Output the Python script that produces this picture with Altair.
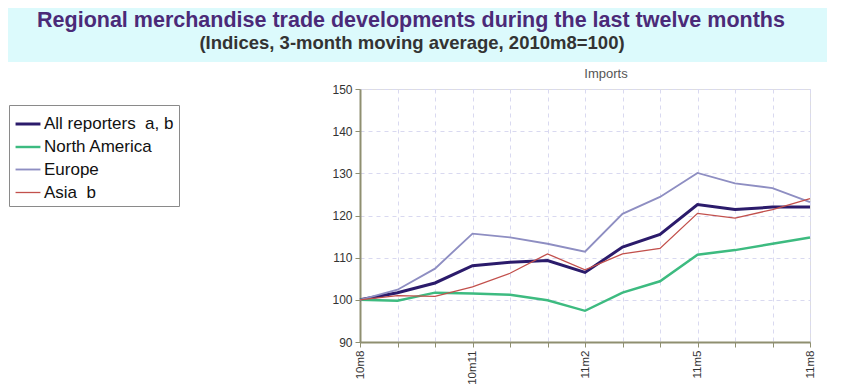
import altair as alt
import pandas as pd

months = ["10m8", "10m9", "10m10", "10m11", "10m12", "11m1", "11m2",
          "11m3", "11m4", "11m5", "11m6", "11m7", "11m8"]
shown_labels = ["10m8", "10m11", "11m2", "11m5", "11m8"]

series_names = ["All reporters\u00a0\u00a0a, b", "\u00a0\u00a0North America",
                "\u00a0\u00a0Europe", "\u00a0\u00a0Asia\u00a0\u00a0b"]
all_reporters = [100, 101.7, 104.0, 108.1, 108.9, 109.3, 106.5, 112.5, 115.5, 122.6, 121.4, 122.0, 122.0]
north_america = [100, 99.8, 101.7, 101.5, 101.2, 99.9, 97.4, 101.7, 104.4, 110.7, 111.8, 113.3, 114.8]
europe = [100, 102.4, 107.4, 115.7, 114.8, 113.3, 111.4, 120.4, 124.4, 130.1, 127.6, 126.5, 123.2]
asia = [100, 101.0, 100.8, 103.1, 106.3, 110.9, 107.1, 110.9, 112.2, 120.5, 119.4, 121.4, 124.0]

colors = ["#2b1b6b", "#3dbb80", "#8e8ec2", "#c2504c"]
widths = [3, 1.3, 1.4, 1.4]

title_text = "Regional merchandise trade developments during the last twelve months"
subtitle_text = "(Indices, 3-month moving average, 2010m8=100)"
panel_title = "Imports"

rows = []
for name, vals in zip(series_names, [all_reporters, north_america, europe, asia]):
    for m, v in zip(months, vals):
        rows.append({"month": m, "series": name, "value": v})
df = pd.DataFrame(rows)

frame_col = "#a5a58c"
grid_col = "#d9d9f0"

label_test = "indexof(" + str(shown_labels) + ", datum.value) >= 0 ? datum.value : ''"

legend_cfg = dict(title=None, orient="none", legendX=-351, legendY=16,
                  symbolType="stroke", symbolSize=620,
                  labelFontSize=17, labelColor="#111111",
                  labelFont="Liberation Sans", labelLimit=300,
                  labelOffset=2, rowPadding=1, padding=5,
                  strokeColor="#8a8a8a", fillColor="white")

lines = alt.Chart(df).mark_line().encode(
    x=alt.X("month:O", sort=months, title=None,
            scale=alt.Scale(type="point", padding=0),
            axis=alt.Axis(labelAngle=-90, labelExpr=label_test, labelFontSize=11.5,
                          labelColor="#333333", labelPadding=3, labelBaseline="middle",
                          labelAlign="right",
                          grid=True, gridColor=grid_col, gridDash=[4, 4],
                          domainColor="#8f8f70", domainWidth=2,
                          tickColor="#8f8f70", tickSize=5, tickWidth=1)),
    y=alt.Y("value:Q", title=None,
            scale=alt.Scale(domain=[90, 150], nice=False, zero=False),
            axis=alt.Axis(values=[90, 100, 110, 120, 130, 140, 150], labelFontSize=12,
                          labelColor="#333333", labelPadding=3,
                          grid=True, gridColor=grid_col, gridDash=[4, 4],
                          domainColor="#8f8f70", domainWidth=2,
                          tickColor="#8f8f70", tickSize=5, tickWidth=1)),
    color=alt.Color("series:N", sort=series_names,
                    scale=alt.Scale(domain=series_names, range=colors),
                    legend=alt.Legend(**legend_cfg)),
    strokeWidth=alt.StrokeWidth("series:N", sort=series_names,
                                scale=alt.Scale(domain=series_names, range=widths),
                                legend=alt.Legend(**legend_cfg)),
)

one = alt.Data(values=[{"k": 1}])

box = alt.Chart(one).mark_rect(color="#dcfafc").encode(
    x=alt.value(-358), x2=alt.value(467), y=alt.value(-86), y2=alt.value(-27))

title_mark = alt.Chart(one).mark_text(
    text=title_text, font="Liberation Sans", fontSize=21.5, fontWeight="bold",
    color="#4b2a78", align="center", baseline="alphabetic").encode(
    x=alt.value(51), y=alt.value(-62))

subtitle_mark = alt.Chart(one).mark_text(
    text=subtitle_text, font="Liberation Sans", fontSize=18.5, fontWeight="bold",
    color="#333333", align="center", baseline="alphabetic").encode(
    x=alt.value(52), y=alt.value(-40))

panel_mark = alt.Chart(one).mark_text(
    text=panel_title, font="Liberation Sans", fontSize=13,
    color="#555555", align="center", baseline="middle").encode(
    x=alt.value(246), y=alt.value(-15))

chart = alt.layer(box, title_mark, subtitle_mark, panel_mark, lines).properties(
    width=450, height=253,
    padding={"left": 352, "top": 81, "right": 23, "bottom": 42},
    autosize=alt.AutoSizeParams(type="none"),
).configure_view(stroke=frame_col, strokeWidth=1).configure(
    font="Liberation Sans")

chart.save("out.html", embed_options={"renderer": "svg", "actions": False})
